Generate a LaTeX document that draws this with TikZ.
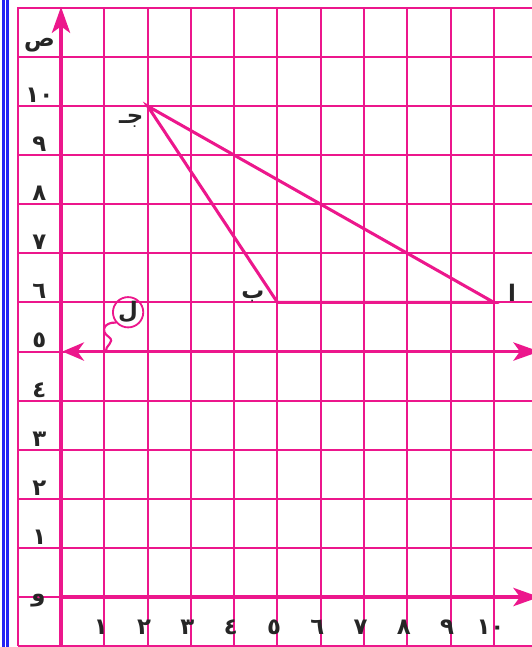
\documentclass[tikz,border=0pt]{standalone}
\usepackage{fontspec}
\usepackage{xcolor}
\usetikzlibrary{positioning, arrows.meta}
\newfontfamily\arabicfont[Script=Arabic]{DejaVu Sans}
\definecolor{magline}{HTML}{EC178C}
\definecolor{edgeblue}{HTML}{2323F5}

\begin{document}
\begin{tikzpicture}[x=1cm, y=1.134cm,
      every node/.style={font=\arabicfont\bfseries\fontsize{15}{15}\selectfont, text=black!85, inner sep=0pt},
      gridline/.style={draw=magline, line width=1.3pt},
      axisline/.style={draw=magline, line width=2.3pt},
      sideline/.style={draw=magline, line width=2pt},
      axistip/.style={-{Stealth[length=6mm, width=4.2mm, inset=1.5mm]}},
      marker/.style={circle, draw=magline, line width=1.2pt, minimum size=0.7cm}]
    \useasboundingbox (-1.409,-1.018) rectangle (10.878,12.16);
    \clip (-1.409,-1.018) rectangle (10.878,12.16);
    % edge of the page
    \draw[edgeblue, line width=2pt] (-1.339,-2) -- (-1.339,13);
    \draw[edgeblue, line width=2pt] (-1.236,-2) -- (-1.236,13);
    % grid
    \foreach \i in {-1,...,11} \draw[gridline] (\i,-1) -- (\i,12.02);
    \foreach \j in {-1,...,12} \draw[gridline] (-1,\j) -- (11.5,\j);
    % axes
    \coordinate (orig) at (0,-1);
    \coordinate (ytop) at (0,12.02);
    \coordinate (xstart) at (0,0);
    \coordinate (xend) at (11.05,0);
    \coordinate (lstart) at (0.03,5);
    \coordinate (lend) at (11.05,5);
    \draw[axisline, axistip] (orig) -- (ytop);
    \draw[axisline, axistip] (xstart) -- (xend);
    \draw[axisline, {Stealth[length=5mm, width=4.2mm, inset=1.5mm]}-{Stealth[length=6mm, width=4.2mm, inset=1.5mm]}] (lstart) -- (lend);
    % axis labels
    \node (ylab) at (-0.5,11.24) {ص};
    \node (zero) at (-0.52,-0.08) {و};
    \foreach \k/\d in {1/١,2/٢,3/٣,4/٤,5/٥,6/٦,7/٧,8/٨,9/٩,10/١٠} {
      \node (y\k) at (-0.5,\k+0.22) {\d};
      \node (x\k) at (\k-0.08,-0.61) {\d};
    }
    % triangle
    \coordinate (alef) at (10,6);
    \coordinate (baa) at (5,6);
    \coordinate (jeem) at (2,10);
    \draw[sideline] (jeem) -- (baa) -- (alef) -- cycle;
    \node (alab) at (10.42,6.2) {ا};
    \node (blab) at (4.43,6.12) {ب};
    \node (jlab) at (1.62,9.7) {جـ};
    % the line l
    \node[marker] (lam) at (1.55,5.8) {ل};
    \coordinate (lamfoot) at (1.06,5);
    \draw[magline, line width=1.4pt] (lam.220) .. controls (1.0,5.6) and (0.9,5.42) .. (1.1,5.3)
      .. controls (1.28,5.18) and (0.98,5.12) .. (lamfoot);
  \end{tikzpicture}
\end{document}
